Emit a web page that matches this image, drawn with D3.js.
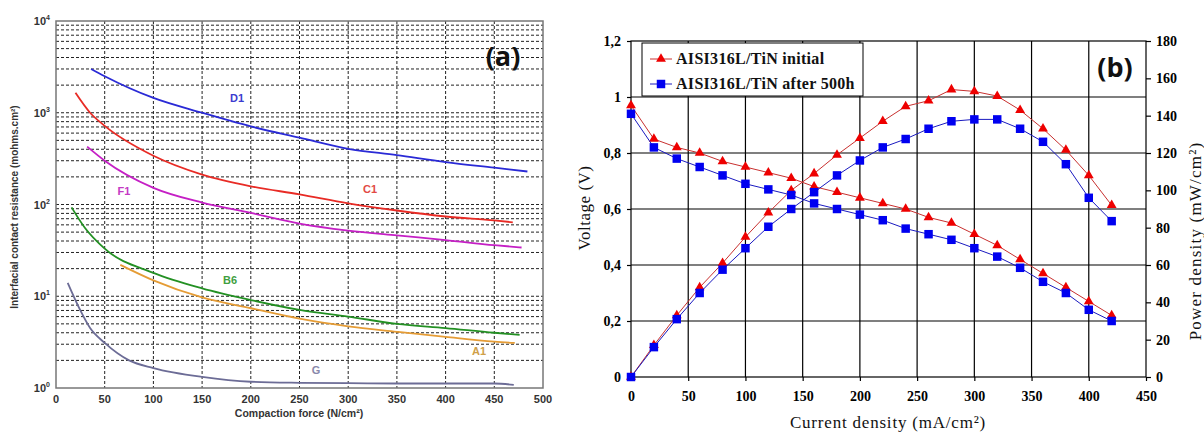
<!DOCTYPE html>
<html>
<head>
<meta charset="utf-8">
<script src="https://cdn.jsdelivr.net/npm/d3@7"></script>
<style>
  body { margin: 0; background: #fff; }
  svg { display: block; }
</style>
</head>
<body>
<div id="viz-container"></div>
<script>
// ---- panel (a) data: contact resistance vs compaction force ----
const d1Force = [36, 50, 100, 150, 200, 250, 300, 350, 400, 450, 484];
const d1Val = [3000, 2500, 1450, 1000, 710, 535, 405, 345, 290, 252, 229];
const c1Force = [20, 35, 50, 100, 150, 200, 250, 300, 350, 400, 450, 469];
const c1Val = [1650, 1000, 720, 340, 212, 158, 129, 103, 86, 74, 67, 64];
const f1Force = [32, 50, 100, 150, 200, 250, 300, 350, 400, 450, 478];
const f1Val = [427, 300, 152, 105, 81, 62, 52, 46, 41, 36, 34];
const b6Force = [16, 30, 50, 100, 150, 200, 250, 300, 350, 400, 450, 476];
const b6Val = [93, 55, 33, 18, 12.2, 9.1, 7.1, 6.0, 5.0, 4.5, 4.0, 3.8];
const a1Force = [66, 100, 150, 200, 250, 300, 350, 400, 450, 471];
const a1Val = [22, 14.9, 9.7, 7.4, 5.7, 4.7, 4.1, 3.6, 3.2, 3.1];
const gForce = [12, 25, 35, 50, 75, 100, 150, 200, 250, 300, 350, 400, 450, 470];
const gVal = [14, 7, 4.5, 3.1, 2.0, 1.65, 1.32, 1.17, 1.14, 1.13, 1.12, 1.12, 1.12, 1.08];
const forceTicks = [0, 50, 100, 150, 200, 250, 300, 350, 400, 450, 500];
const resistTicks = [1, 10, 100, 1000, 10000];

// ---- panel (b) data: polarisation and power curves ----
const current = [0, 20, 40, 60, 80, 100, 120, 140, 160, 180, 200, 220, 240, 260, 280, 300, 320, 340, 360, 380, 400, 420];
const voltInitial = [0.97, 0.85, 0.82, 0.80, 0.77, 0.75, 0.73, 0.71, 0.68, 0.66, 0.64, 0.62, 0.60, 0.57, 0.55, 0.51, 0.47, 0.42, 0.37, 0.32, 0.27, 0.22];
const voltAfter = [0.94, 0.82, 0.78, 0.75, 0.72, 0.69, 0.67, 0.65, 0.62, 0.60, 0.58, 0.56, 0.53, 0.51, 0.49, 0.46, 0.43, 0.39, 0.34, 0.30, 0.24, 0.20];
const powerInitial = [0, 17, 33, 48, 61, 75, 88, 100, 109, 119, 128, 137, 145, 148, 154, 153, 150.5, 143, 133, 121.6, 108, 92];
const powerAfter = [0, 16, 31, 45, 57.5, 69, 80.5, 90, 99, 108, 116, 123, 127.5, 133, 137, 138, 138, 133, 126, 114, 96, 83.5];
const currentTicks = [0, 50, 100, 150, 200, 250, 300, 350, 400, 450];
const voltTicks = [0, 0.2, 0.4, 0.6, 0.8, 1, 1.2];
const powerTicks = [0, 20, 40, 60, 80, 100, 120, 140, 160, 180];
const legendNames = ['AISI316L/TiN initial', 'AISI316L/TiN after 500h'];

let svg = d3.select('#viz-container').append('svg')
    .attr('width', 1204)
    .attr('height', 434);

// ================= panel (a) =================
let xA = d3.scaleLinear().domain([0, 500]).range([56, 543]);
let yA = d3.scaleLog().domain([1, 10000]).range([388, 21]);
let gA = svg.append('g');

// dashed grid
gA.selectAll('.vgrid').data(forceTicks.slice(1, -1)).enter()
    .append('line')
    .attr('x1', d => xA(d)).attr('x2', d => xA(d))
    .attr('y1', yA(10000)).attr('y2', yA(1))
    .attr('stroke', '#222').attr('stroke-width', 1)
    .attr('stroke-dasharray', '3,2');
gA.selectAll('.hgrid').data(yA.ticks().filter(d => d > 1 && d < 10000)).enter()
    .append('line')
    .attr('x1', xA(0)).attr('x2', xA(500))
    .attr('y1', d => yA(d)).attr('y2', d => yA(d))
    .attr('stroke', '#222').attr('stroke-width', 1)
    .attr('stroke-dasharray', '3,2');

gA.append('rect')
    .attr('x', xA(0)).attr('y', yA(10000))
    .attr('width', xA(500) - xA(0)).attr('height', yA(1) - yA(10000))
    .attr('fill', 'none').attr('stroke', '#777').attr('stroke-width', 1.5);

// curves
let seriesA = [
    { force: d1Force, val: d1Val, color: '#2a2ad6', name: 'D1', lx: 237, ly: 102, lc: '#3b3bd0' },
    { force: c1Force, val: c1Val, color: '#e82b25', name: 'C1', lx: 370, ly: 193, lc: '#e24a44' },
    { force: f1Force, val: f1Val, color: '#c51fc5', name: 'F1', lx: 124, ly: 195, lc: '#c43ac4' },
    { force: b6Force, val: b6Val, color: '#239023', name: 'B6', lx: 230, ly: 284, lc: '#3f9f3f' },
    { force: a1Force, val: a1Val, color: '#e59c35', name: 'A1', lx: 479, ly: 355, lc: '#cfa048' },
    { force: gForce, val: gVal, color: '#6c6c96', name: 'G', lx: 316, ly: 374, lc: '#8888aa' }
];
let lineA = d3.line()
    .x(d => xA(d[0]))
    .y(d => yA(d[1]))
    .curve(d3.curveMonotoneX);
seriesA.forEach(s => {
    let pts = s.force.map((f, i) => [f, s.val[i]]);
    gA.append('path')
        .attr('d', lineA(pts))
        .attr('fill', 'none')
        .attr('stroke', s.color)
        .attr('stroke-width', 1.8);
    gA.append('text')
        .attr('x', s.lx).attr('y', s.ly)
        .attr('text-anchor', 'middle')
        .attr('font-family', 'Liberation Sans, Arial, sans-serif')
        .attr('font-weight', 'bold')
        .attr('font-size', 11)
        .attr('fill', s.lc)
        .text(s.name);
});

// tick labels
gA.selectAll('.xtick').data(forceTicks).enter()
    .append('text')
    .attr('x', d => xA(d)).attr('y', 403)
    .attr('text-anchor', 'middle')
    .attr('font-family', 'Liberation Sans, Arial, sans-serif')
    .attr('font-weight', 'bold').attr('font-size', 11)
    .attr('fill', '#333')
    .text(d => d);
let yLab = gA.selectAll('.ytick').data(resistTicks).enter()
    .append('text')
    .attr('x', 50).attr('y', d => yA(d) + 4)
    .attr('text-anchor', 'end')
    .attr('font-family', 'Liberation Sans, Arial, sans-serif')
    .attr('font-weight', 'bold').attr('font-size', 11)
    .attr('fill', '#333');
yLab.append('tspan').text('10');
yLab.append('tspan')
    .attr('dy', -5).attr('font-size', 7)
    .text(d => Math.round(Math.log10(d)));

gA.append('text')
    .attr('x', 299).attr('y', 417)
    .attr('text-anchor', 'middle')
    .attr('font-family', 'Liberation Sans, Arial, sans-serif')
    .attr('font-weight', 'bold').attr('font-size', 10.5)
    .attr('fill', '#333')
    .text('Compaction force (N/cm²)');
gA.append('text')
    .attr('transform', 'translate(18,207) rotate(-90)')
    .attr('text-anchor', 'middle')
    .attr('font-family', 'Liberation Sans, Arial, sans-serif')
    .attr('font-weight', 'bold').attr('font-size', 10)
    .attr('fill', '#333')
    .text('Interfacial contact resistance (mohms.cm²)');
gA.append('text')
    .attr('x', 503).attr('y', 66)
    .attr('text-anchor', 'middle')
    .attr('font-family', 'Open Sans, sans-serif')
    .attr('font-weight', 'bold').attr('font-size', 27)
    .attr('fill', '#111')
    .text('(a)');

// ================= panel (b) =================
let xB = d3.scaleLinear().domain([0, 450]).range([631, 1146]);
let yV = d3.scaleLinear().domain([0, 1.2]).range([377, 41]);
let yP = d3.scaleLinear().domain([0, 180]).range([377, 41]);
let gB = svg.append('g');
const serif = 'Liberation Serif, Times New Roman, serif';

gB.selectAll('.vgrid').data(currentTicks.slice(1, -1)).enter()
    .append('line')
    .attr('x1', d => xB(d)).attr('x2', d => xB(d))
    .attr('y1', yV(1.2)).attr('y2', yV(0))
    .attr('stroke', '#000').attr('stroke-width', 1.2);
gB.selectAll('.hgrid').data(voltTicks.slice(1, -1)).enter()
    .append('line')
    .attr('x1', xB(0)).attr('x2', xB(450))
    .attr('y1', d => yV(d)).attr('y2', d => yV(d))
    .attr('stroke', '#000').attr('stroke-width', 1.2);
gB.append('rect')
    .attr('x', xB(0)).attr('y', yV(1.2))
    .attr('width', xB(450) - xB(0)).attr('height', yV(0) - yV(1.2))
    .attr('fill', 'none').attr('stroke', '#000').attr('stroke-width', 1.2);

// axes
let axL = gB.append('g')
    .attr('transform', `translate(${xB(0)},0)`)
    .call(d3.axisLeft(yV).tickValues(voltTicks).tickSize(4).tickPadding(6)
        .tickFormat(d => String(d).replace('.', ',')));
let axR = gB.append('g')
    .attr('transform', `translate(${xB(450)},0)`)
    .call(d3.axisRight(yP).tickValues(powerTicks).tickSize(5).tickPadding(5));
let axX = gB.append('g')
    .attr('transform', `translate(0,${yV(0)})`)
    .call(d3.axisBottom(xB).tickValues(currentTicks).tickSize(4).tickPadding(10));
[axL, axR, axX].forEach(ax => {
    ax.select('.domain').remove();
    ax.selectAll('line').attr('stroke', '#000').attr('stroke-width', 1.2);
    ax.selectAll('text')
        .attr('font-family', serif)
        .attr('font-weight', 'bold')
        .attr('font-size', 14)
        .attr('fill', '#000');
});

// series
let seriesB = [
    { y: yV, val: voltInitial, line: '#c8302f', mark: '#ee0000', sym: d3.symbolTriangle, size: 42 },
    { y: yP, val: powerInitial, line: '#c8302f', mark: '#ee0000', sym: d3.symbolTriangle, size: 42 },
    { y: yV, val: voltAfter, line: '#1a1ac0', mark: '#0000f0', sym: d3.symbolSquare, size: 72 },
    { y: yP, val: powerAfter, line: '#1a1ac0', mark: '#0000f0', sym: d3.symbolSquare, size: 72 }
];
seriesB.forEach(s => {
    let pts = current.map((c, i) => [c, s.val[i]]);
    gB.append('path')
        .attr('d', d3.line().x(d => xB(d[0])).y(d => s.y(d[1]))(pts))
        .attr('fill', 'none')
        .attr('stroke', s.line)
        .attr('stroke-width', 1);
    gB.selectAll(null).data(pts).enter()
        .append('path')
        .attr('transform', d => `translate(${xB(d[0])},${s.y(d[1])})`)
        .attr('d', d3.symbol().type(s.sym).size(s.size))
        .attr('fill', s.mark);
});

// legend
gB.append('rect')
    .attr('x', 642).attr('y', 43)
    .attr('width', 221).attr('height', 53)
    .attr('fill', '#fff').attr('stroke', '#000').attr('stroke-width', 1);
let legendStyle = [
    { line: '#c8302f', mark: '#ee0000', sym: d3.symbolTriangle, size: 42 },
    { line: '#1a1ac0', mark: '#0000f0', sym: d3.symbolSquare, size: 72 }
];
legendNames.forEach((name, i) => {
    let ly = 59 + i * 25;
    gB.append('line')
        .attr('x1', 650).attr('x2', 672)
        .attr('y1', ly).attr('y2', ly)
        .attr('stroke', legendStyle[i].line).attr('stroke-width', 1);
    gB.append('path')
        .attr('transform', `translate(661,${ly})`)
        .attr('d', d3.symbol().type(legendStyle[i].sym).size(legendStyle[i].size))
        .attr('fill', legendStyle[i].mark);
    gB.append('text')
        .attr('x', 676).attr('y', ly + 5)
        .attr('font-family', serif)
        .attr('font-weight', 'bold').attr('font-size', 16)
        .attr('letter-spacing', 0.3)
        .attr('fill', '#111')
        .text(name);
});

// titles
gB.append('text')
    .attr('x', 888).attr('y', 428)
    .attr('text-anchor', 'middle')
    .attr('font-family', serif).attr('font-size', 17)
    .attr('letter-spacing', 0.8)
    .attr('fill', '#111')
    .text('Current density (mA/cm²)');
gB.append('text')
    .attr('transform', 'translate(590,208) rotate(-90)')
    .attr('text-anchor', 'middle')
    .attr('font-family', serif).attr('font-size', 17)
    .attr('letter-spacing', 0.5)
    .attr('fill', '#111')
    .text('Voltage (V)');
gB.append('text')
    .attr('transform', 'translate(1201,241) rotate(-90)')
    .attr('text-anchor', 'middle')
    .attr('font-family', serif).attr('font-size', 17)
    .attr('letter-spacing', 1.2)
    .attr('fill', '#111')
    .text('Power density (mW/cm²)');
gB.append('text')
    .attr('x', 1115).attr('y', 77)
    .attr('text-anchor', 'middle')
    .attr('font-family', 'Open Sans, sans-serif')
    .attr('font-weight', 'bold').attr('font-size', 27)
    .attr('fill', '#111')
    .text('(b)');
</script>
</body>
</html>
